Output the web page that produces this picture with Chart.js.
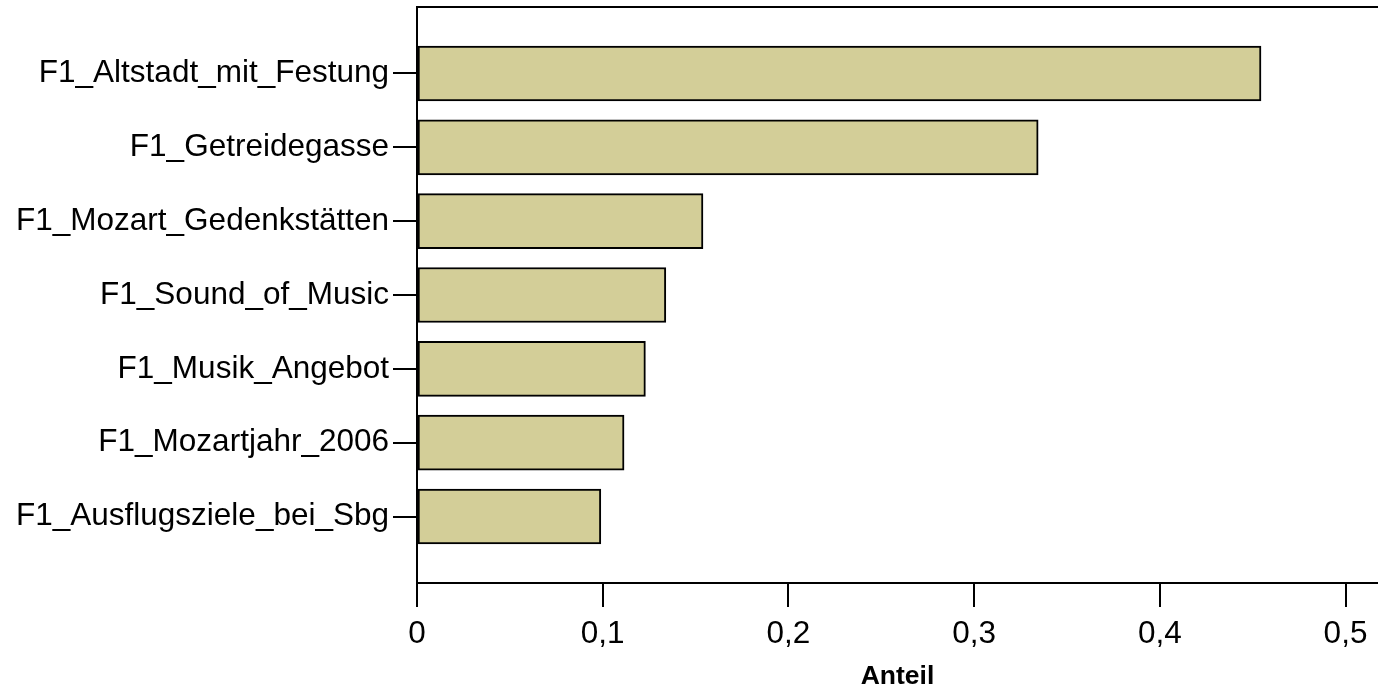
<!DOCTYPE html>
<html>
<head>
<meta charset="utf-8">
<script src="https://cdn.jsdelivr.net/npm/chart.js@4"></script>
<style>
  html, body { margin: 0; padding: 0; background: #fff; }
  #wrap { width: 1378px; height: 692px; }
</style>
</head>
<body>
<div id="wrap"><canvas id="chart" width="1378" height="692"></canvas></div>
<script>
const categories = [
  'F1_Altstadt_mit_Festung',
  'F1_Getreidegasse',
  'F1_Mozart_Gedenkstätten',
  'F1_Sound_of_Music',
  'F1_Musik_Angebot',
  'F1_Mozartjahr_2006',
  'F1_Ausflugsziele_bei_Sbg'
]
const shares = [0.4545, 0.3345, 0.154, 0.134, 0.123, 0.1115, 0.099]
const xTicks = [0, 0.1, 0.2, 0.3, 0.4, 0.5]
const xTickLabels = ['0', '0,1', '0,2', '0,3', '0,4', '0,5']

Chart.defaults.font.family = '"Liberation Sans", Arial, sans-serif'
Chart.defaults.color = '#000'

// line along the top of the plot, as in the original frame
const topLine = {
  id: 'topLine',
  afterDraw(chart) {
    const { ctx, chartArea } = chart
    ctx.save()
    ctx.strokeStyle = '#000'
    ctx.lineWidth = 2
    ctx.beginPath()
    ctx.moveTo(chartArea.left, chartArea.top)
    ctx.lineTo(chartArea.right, chartArea.top)
    ctx.stroke()
    ctx.restore()
  }
}

new Chart(document.getElementById('chart'), {
  type: 'bar',
  data: {
    datasets: [{
      data: shares.map((v, i) => ({ x: v, y: i })),
      backgroundColor: '#d3ce98',
      borderColor: '#000',
      borderWidth: 2,
      borderSkipped: false,
      barThickness: 55
    }]
  },
  options: {
    indexAxis: 'y',
    responsive: false,
    animation: false,
    layout: { padding: { top: 7, right: 0, left: 0, bottom: 0 } },
    plugins: { legend: { display: false }, tooltip: { enabled: false } },
    scales: {
      x: {
        type: 'linear',
        min: 0,
        max: 0.5175,
        afterBuildTicks: s => { s.ticks = xTicks.map(v => ({ value: v })) },
        afterFit: s => { s.height = 109; s.paddingLeft = 0; s.paddingRight = 0 },
        border: { display: true, color: '#000', width: 2 },
        grid: { drawOnChartArea: false, tickLength: 24, color: '#000', lineWidth: 2 },
        ticks: {
          font: { size: 31.5 },
          padding: 8,
          maxRotation: 0,
          callback: (v, i) => xTickLabels[i]
        },
        title: {
          display: true,
          text: 'Anteil',
          font: { size: 26.5, weight: 'bold' },
          padding: { top: 0, bottom: -1 }
        }
      },
      y: {
        type: 'linear',
        reverse: true,
        offset: false,
        min: -0.9,
        max: 6.9,
        afterBuildTicks: s => { s.ticks = categories.map((c, i) => ({ value: i })) },
        afterFit: s => { s.width = 417; s.paddingTop = 0; s.paddingBottom = 0 },
        border: { display: true, color: '#000', width: 2 },
        grid: { offset: false, drawOnChartArea: false, tickLength: 24, color: '#000', lineWidth: 2 },
        ticks: {
          font: { size: 31.5 },
          padding: 4,
          callback: v => categories[v]
        }
      }
    }
  },
  plugins: [topLine]
})
</script>
</body>
</html>
